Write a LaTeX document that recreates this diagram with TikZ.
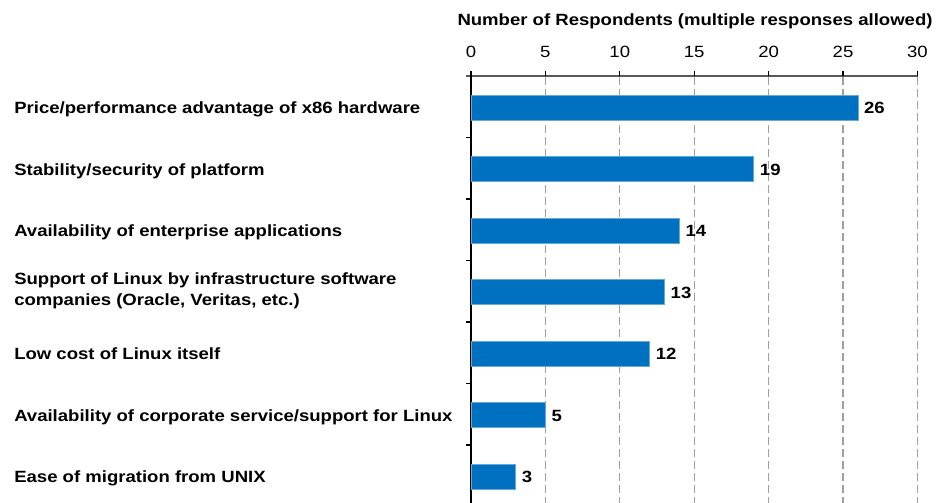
\documentclass[tikz,border=0pt]{standalone}
\usepackage{fontspec}
\setmainfont{Liberation Sans}[FakeStretch=1.14]
\usetikzlibrary{positioning}
\definecolor{barblue}{RGB}{0,112,192}

\begin{document}
\begin{tikzpicture}[x=0.75pt,y=-0.75pt,
    font=\fontsize{12.2}{15.75}\selectfont,
    bar/.style={fill=barblue,draw=barblue!60!white,line width=0.5pt},
    gridline/.style={gray!75,line width=0.8pt,dash pattern=on 6pt off 3pt},
    reason/.style={anchor=base west,inner sep=0pt,align=left,font=\bfseries\fontsize{12.2}{15.75}\selectfont},
    count/.style={anchor=base west,inner sep=0pt,font=\bfseries\fontsize{12.2}{15.75}\selectfont},
    ticklabel/.style={anchor=base,inner sep=0pt}]
    \useasboundingbox (0,0) rectangle (939,503);

    % Grid
    \foreach \v in {5,10,...,30}
        \draw[gridline] (471+14.88*\v,77) -- (471+14.88*\v,503);

    % Axes
    \coordinate (origin) at (471,76);
    \coordinate (xend) at (918,76);
    \coordinate (xstart) at (466,76);
    \coordinate (yend) at (471,503);
    \draw[black!65,line width=0.8pt] (xstart) -- (xend);
    \draw[line width=0.8pt] (471,71) -- (yend);
    \foreach \v in {0,5,...,30} {
        \draw[line width=0.8pt] (471+14.88*\v,71) -- (471+14.88*\v,76);
        \node[ticklabel] (tick\v) at (471+14.88*\v,57.3) {\v};
    }
    \foreach \k in {1,...,6}
        \draw[line width=0.8pt] (466,76+61.5*\k) -- (471,76+61.5*\k);

    \node[anchor=base,inner sep=0pt,font=\bfseries\fontsize{12.2}{15.75}\selectfont] (title) at (695,26) {Number of Respondents (multiple responses allowed)};

    % Bars
    \foreach \v [count=\i from 0] in {26,19,14,13,12,5,3} {
        \draw[bar] (471,95+61.5*\i) rectangle (471+14.88*\v,120+61.5*\i);
        \node[count] (count\i) at (477+14.88*\v,113.5+61.5*\i) {\v};
    }

    % Reasons
    \node[reason] (price) at (14,113.5) {Price/performance advantage of x86 hardware};
    \node[reason] (stability) at (14,175) {Stability/security of platform};
    \node[reason] (apps) at (14,236.5) {Availability of enterprise applications};
    \node[reason] (support) at (14,305) {Support of Linux by infrastructure software\\companies (Oracle, Veritas, etc.)};
    \node[reason] (lowcost) at (14,359.5) {Low cost of Linux itself};
    \node[reason] (service) at (14,421) {Availability of corporate service/support for Linux};
    \node[reason] (migration) at (14,482.5) {Ease of migration from UNIX};
\end{tikzpicture}
\end{document}
